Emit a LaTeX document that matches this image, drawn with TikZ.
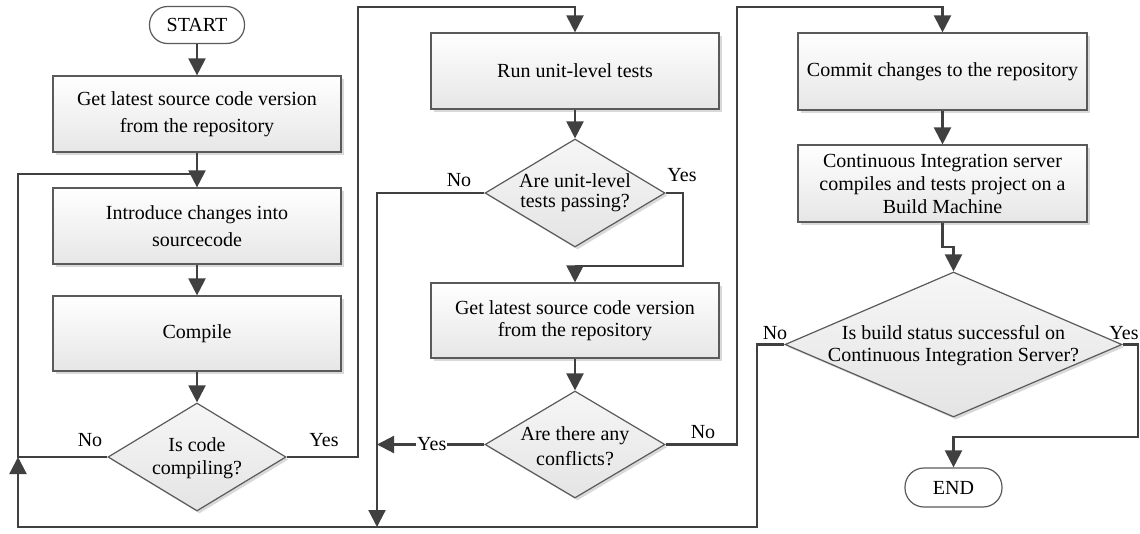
\documentclass[tikz,border=0pt]{standalone}
\usepackage{fontspec}
\setmainfont{Liberation Serif}
\usetikzlibrary{arrows.meta,shapes.geometric,shadows}
\definecolor{linecol}{HTML}{404040}
\definecolor{edgecol}{HTML}{5A5A5A}
\definecolor{boxbot}{HTML}{E6E6E6}
\definecolor{diatop}{HTML}{F6F6F6}
\definecolor{diabot}{HTML}{E4E4E4}

\begin{document}
\begin{tikzpicture}[x=1pt,y=-1pt,
  every node/.style={font=\fontsize{20}{23}\selectfont, text=black},
  softshadow/.style={drop shadow={shadow xshift=2.5pt, shadow yshift=-2.5pt, opacity=0.15, fill=black}},
  procbox/.style={rectangle, draw=edgecol, line width=1.2pt, top color=white, bottom color=boxbot,
    minimum width=288pt, minimum height=76pt, align=center, inner sep=2pt, softshadow},
  terminal/.style={rectangle, rounded corners=18pt, draw=edgecol, line width=1.2pt, fill=white,
    minimum width=95pt, minimum height=37pt, inner sep=0pt},
  decision/.style={diamond, draw=edgecol, line width=1.2pt, top color=diatop, bottom color=diabot,
    inner sep=0pt, softshadow},
  dtext/.style={align=center, inner sep=0pt},
  flow/.style={line width=2.2pt, draw=linecol, line join=miter},
  arr/.style={flow, -{Triangle[width=17pt,length=17pt]}},
  answer/.style={inner sep=0pt}
]
\useasboundingbox (0,0) rectangle (1140,533);

% left column: local edit and compile loop
\node[terminal] (start) at (197,25) {START};
\node[procbox, font=\fontsize{20}{27}\selectfont] (b1) at (197,114) {Get latest source code version\\from the repository};
\node[procbox, font=\fontsize{20}{27}\selectfont] (b2) at (197,226) {Introduce changes into\\sourcecode};
\node[procbox, minimum height=75pt] (b3) at (197,333.5) {Compile};
\node[decision, minimum width=178pt, minimum height=108pt] (d1) at (197,457) {};
\node[dtext] (d1t) at (197,458) {Is code\\compiling?};

% middle column: tests and update
\node[procbox] (b4) at (575,71) {Run unit-level tests};
\node[decision, minimum width=180pt, minimum height=108pt] (d2) at (575,193) {};
\node[dtext, font=\fontsize{20}{20}\selectfont] (d2t) at (575,193) {Are unit-level\\tests passing?};
\node[procbox, minimum height=75pt, font=\fontsize{20}{22}\selectfont] (b5) at (575,320.5) {Get latest source code version\\from the repository};
\node[decision, minimum width=180pt, minimum height=107pt] (d3) at (575,444.5) {};
\node[dtext, font=\fontsize{20}{25}\selectfont] (d3t) at (575,446) {Are there any\\conflicts?};

% right column: commit and CI build
\node[procbox, minimum width=289pt, minimum height=77pt] (b6) at (942.5,71.5) {Commit changes to the repository};
\node[procbox, minimum width=289pt, minimum height=77pt] (b7) at (942.5,183.5) {Continuous Integration server\\compiles and tests project on a\\Build Machine};
\node[decision, minimum width=337pt, minimum height=145pt] (d4) at (953.5,344.5) {};
\node[dtext, font=\fontsize{20}{22}\selectfont] (d4t) at (953.5,346) {Is build status successful on\\Continuous Integration Server?};
\node[terminal, minimum width=97pt, minimum height=39pt, rounded corners=19pt] (end) at (953.5,487.5) {END};

% routing points
\coordinate (jl) at (18,457);
\coordinate (tl) at (18,174);
\coordinate (m1) at (197,174);
\coordinate (bl) at (18,527);
\coordinate (br) at (757,527);
\coordinate (bm) at (377,527);
\coordinate (jm) at (377,444.5);
\coordinate (c1) at (358,7);
\coordinate (c2) at (683,266);
\coordinate (c3) at (737,7);
\coordinate (c4) at (942.5,247);
\coordinate (c5) at (1138,437);

% connectors
\draw[arr] (start.south) -- (b1.north);
\draw[arr] (b1.south) -- (b2.north);
\draw[arr] (b2.south) -- (b3.north);
\draw[arr] (b3.south) -- (d1.north);
\draw[flow] (d1.west) -- (jl) -- (tl) -- (m1);
\draw[arr] (d4.west) -| (br) -- (bl) -- (jl);
\draw[arr] (d1.east) -| (c1) -| (b4.north);
\draw[arr] (b4.south) -- (d2.north);
\draw[arr] (d2.east) -| (c2) -| (b5.north);
\draw[arr] (d2.west) -| (bm);
\draw[arr] (b5.south) -- (d3.north);
\draw[arr] (d3.west) -- node[answer, fill=white, inner xsep=1pt, pos=0.49] (lyes3) {Yes} (jm);
\draw[arr] (d3.east) -| (c3) -| (b6.north);
\draw[arr] (b6.south) -- (b7.north);
\draw[arr] (b7.south) -- (c4) -| (d4.north);
\draw[arr] (d4.east) -| (c5) -| (end.north);

% branch answers
\node[answer] (lno1) at (90,440) {No};
\node[answer] (lyes1) at (324,440) {Yes};
\node[answer] (lno2) at (459,180) {No};
\node[answer] (lyes2) at (682,175) {Yes};
\node[answer] (lno3) at (703,432) {No};
\node[answer] (lno4) at (775,333) {No};
\node[answer] (lyes4) at (1124,333) {Yes};
\end{tikzpicture}
\end{document}
